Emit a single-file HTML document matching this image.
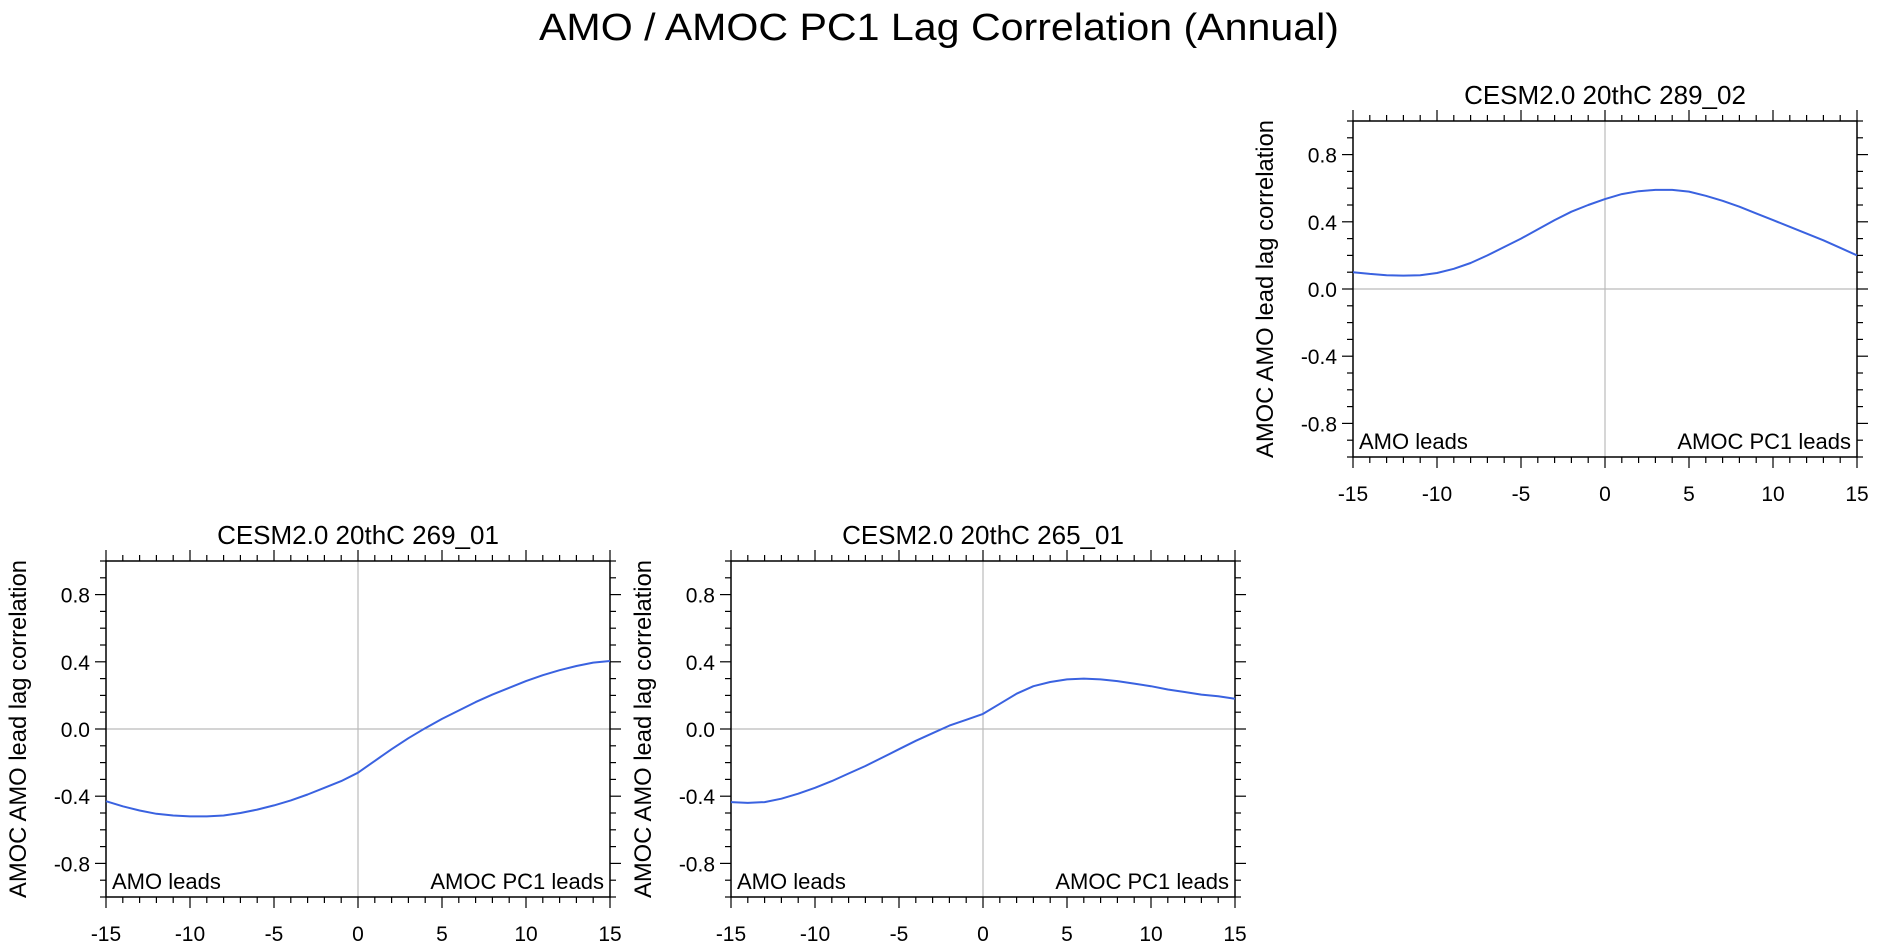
<!DOCTYPE html>
<html><head><meta charset="utf-8"><style>
html,body{margin:0;padding:0;background:#fff;}
svg{display:block;font-family:"Liberation Sans",Arial,sans-serif;}
</style></head><body>
<svg id="fig" width="1880" height="947" viewBox="0 0 1880 947">
<text x="939" y="40" font-size="38" text-anchor="middle" textLength="800" lengthAdjust="spacingAndGlyphs">AMO / AMOC PC1 Lag Correlation (Annual)</text>
</svg>
<script>
const lags = [-15,-14,-13,-12,-11,-10,-9,-8,-7,-6,-5,-4,-3,-2,-1,0,1,2,3,4,5,6,7,8,9,10,11,12,13,14,15];
const series289_02 = [0.10,0.09,0.082,0.08,0.082,0.095,0.12,0.155,0.2,0.25,0.3,0.355,0.41,0.46,0.5,0.535,0.565,0.582,0.59,0.59,0.58,0.555,0.525,0.49,0.45,0.41,0.37,0.33,0.29,0.245,0.2];
const series269_01 = [-0.43,-0.46,-0.485,-0.505,-0.515,-0.52,-0.52,-0.515,-0.5,-0.48,-0.455,-0.425,-0.39,-0.35,-0.31,-0.26,-0.19,-0.12,-0.055,0.005,0.06,0.11,0.16,0.205,0.245,0.285,0.32,0.35,0.375,0.395,0.405];
const series265_01 = [-0.435,-0.44,-0.435,-0.415,-0.385,-0.35,-0.31,-0.265,-0.22,-0.17,-0.12,-0.07,-0.025,0.02,0.055,0.09,0.15,0.21,0.255,0.28,0.295,0.3,0.295,0.285,0.27,0.255,0.235,0.22,0.205,0.195,0.18];
const xTickLabels = ["-15","-10","-5","0","5","10","15"];
const xTickValues = [-15,-10,-5,0,5,10,15];
const yTickLabels = ["-0.8","-0.4","0.0","0.4","0.8"];
const yTickValues = [-0.8,-0.4,0,0.4,0.8];
const panelTitles = ["CESM2.0 20thC 289_02","CESM2.0 20thC 269_01","CESM2.0 20thC 265_01"];

const NS="http://www.w3.org/2000/svg";
const svg=document.getElementById('fig');
function mk(tag,attrs,parent){const e=document.createElementNS(NS,tag);for(const k in attrs)e.setAttribute(k,attrs[k]);(parent||svg).appendChild(e);return e;}

function panel(L,R,T,B,title,vals,slug){
  const g=mk('g',{});
  
  
  const xs=v=>L+(v+15)/30*(R-L);
  const ys=v=>B-(v+1)/2*(B-T);
  const zx=mk('line',{x1:xs(0),x2:xs(0),y1:T,y2:B,stroke:'#bbb','stroke-width':1.2},g);
  
  
  const zy=mk('line',{x1:L,x2:R,y1:ys(0),y2:ys(0),stroke:'#bbb','stroke-width':1.2},g);
  
  
  const fr=mk('rect',{x:L,y:T,width:R-L,height:B-T,fill:'none',stroke:'#000','stroke-width':1.5},g);
  
  
  for(let v=-15;v<=15;v++){
    const len=(v%5===0)?11:6;
    mk('line',{x1:xs(v),x2:xs(v),y1:T,y2:T-len,stroke:'#000','stroke-width':1.2},g);
    mk('line',{x1:xs(v),x2:xs(v),y1:B,y2:B+len,stroke:'#000','stroke-width':1.2},g);
  }
  for(let i=0;i<=20;i++){
    const v=-1+i*0.1;
    const major=(i%4===2);
    const len=major?11:6;
    mk('line',{x1:L,x2:L-len,y1:ys(v),y2:ys(v),stroke:'#000','stroke-width':1.2},g);
    mk('line',{x1:R,x2:R+len,y1:ys(v),y2:ys(v),stroke:'#000','stroke-width':1.2},g);
  }
  xTickLabels.forEach((s,i)=>{
    const t=mk('text',{x:xs(xTickValues[i]),y:B+44,'font-size':21,'text-anchor':'middle'},g);
    t.textContent=s;
    
    
  });
  yTickLabels.forEach((s,i)=>{
    const t=mk('text',{x:L-16,y:ys(yTickValues[i])+8,'font-size':21,'text-anchor':'end'},g);
    t.textContent=s;
    
    
  });
  const yt=mk('text',{x:0,y:0,'font-size':24,'text-anchor':'middle',transform:`translate(${L-80},${(T+B)/2}) rotate(-90)`,textLength:B-T+2,lengthAdjust:'spacingAndGlyphs'},g);
  yt.textContent='AMOC AMO lead lag correlation';
  
  
  const pt=mk('text',{x:(L+R)/2,y:T-17,'font-size':26,'text-anchor':'middle'},g);
  pt.textContent=title;
  
  
  const a1=mk('text',{x:L+6,y:B-8,'font-size':22},g);
  a1.textContent='AMO leads';
  
  
  const a2=mk('text',{x:R-6,y:B-8,'font-size':22,'text-anchor':'end'},g);
  a2.textContent='AMOC PC1 leads';
  
  
  const pts=lags.map((x,i)=>xs(x).toFixed(1)+','+ys(vals[i]).toFixed(1)).join(' ');
  const ln=mk('polyline',{points:pts,fill:'none',stroke:'#3a62e0','stroke-width':2,'stroke-linejoin':'round'},g);
  
  
}
panel(1353,1857,121,457,panelTitles[0],series289_02,'289-02');
panel(106,610,561,897,panelTitles[1],series269_01,'269-01');
panel(731,1235,561,897,panelTitles[2],series265_01,'265-01');
</script>
</body></html>
